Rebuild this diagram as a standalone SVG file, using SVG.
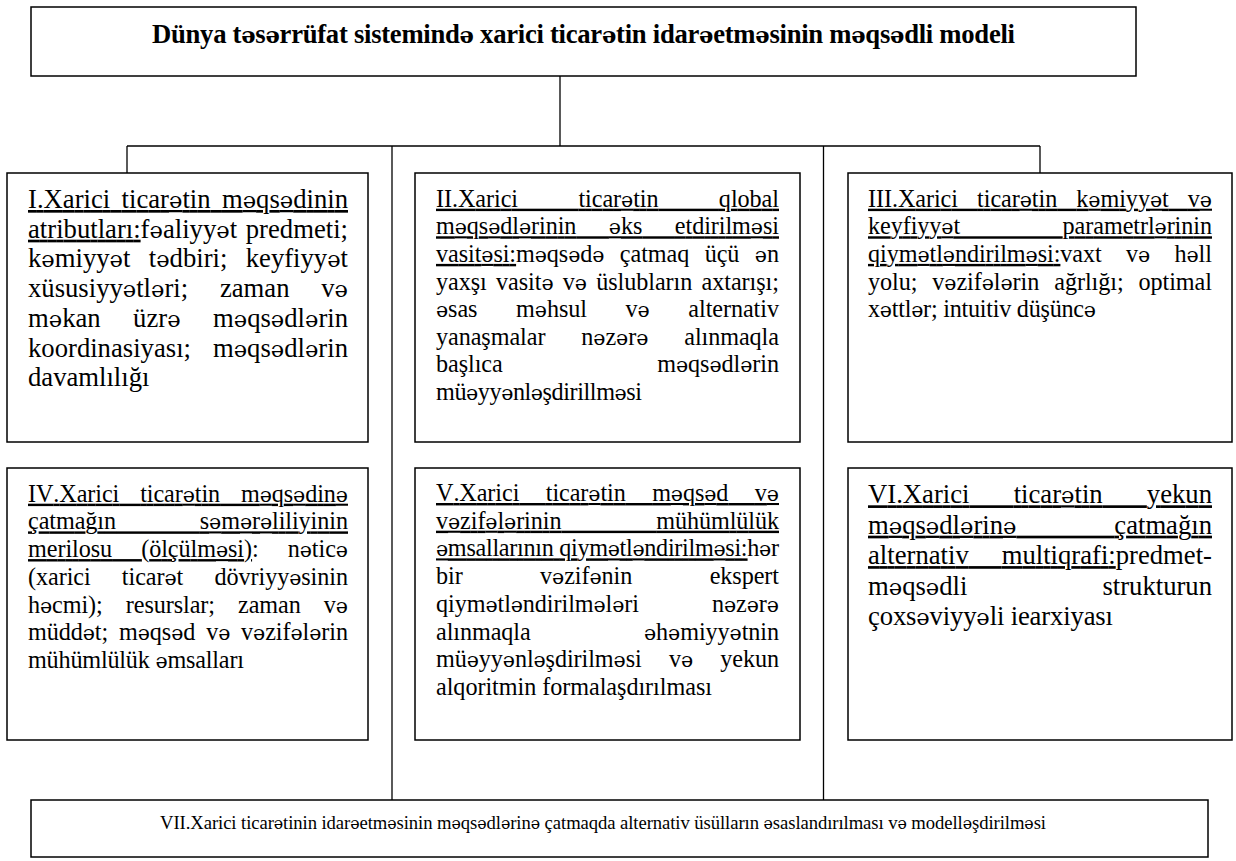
<svg xmlns="http://www.w3.org/2000/svg" width="1236" height="861" viewBox="0 0 1236 861">
<style>
.box{fill:#fff;stroke:#000;stroke-width:1.5}
.conn{stroke:#000;stroke-width:1.3;fill:none}
.t{font-family:"Liberation Serif","Times New Roman","DejaVu Serif",serif;font-size:24.2px;fill:#000;font-kerning:none;font-variant-ligatures:none}
.big{font-size:26.67px}
.small{font-size:18.67px}
.title{font-weight:bold;font-size:26.67px}
.u{text-decoration:underline;text-decoration-thickness:1.6px}
.s{font-size:85%;font-family:"DejaVu Serif","Liberation Serif",serif}
</style>
<rect width="1236" height="861" fill="#fff"/>
<g id="connectors">
<line class="conn" x1="560" y1="76" x2="560" y2="146"/>
<line class="conn" x1="127" y1="146" x2="1040" y2="146"/>
<line class="conn" x1="127" y1="146" x2="127" y2="173"/>
<line class="conn" x1="1040" y1="146" x2="1040" y2="173"/>
<line class="conn" x1="392" y1="146" x2="392" y2="800"/>
<line class="conn" x1="823.5" y1="146" x2="823.5" y2="800"/>
</g>
<g id="title">
<rect class="box" x="31" y="7" width="1105" height="69"/>
<text class="t title" x="152" y="43" textLength="863" lengthAdjust="spacing">Dünya t<tspan class="s">ə</tspan>s<tspan class="s">ə</tspan>rrüfat sistemind<tspan class="s">ə</tspan> xarici ticar<tspan class="s">ə</tspan>tin idar<tspan class="s">ə</tspan>etm<tspan class="s">ə</tspan>sinin m<tspan class="s">ə</tspan>qs<tspan class="s">ə</tspan>dli modeli</text>
</g>
<g id="node-1">
<rect class="box" x="7" y="173" width="361" height="269"/>
<text class="t big u" x="28" y="208" word-spacing="4.7" textLength="320" lengthAdjust="spacing">I.Xarici ticar<tspan class="s">ə</tspan>tin m<tspan class="s">ə</tspan>qs<tspan class="s">ə</tspan>dinin</text>
<text class="t big" x="28" y="237.7" word-spacing="2" textLength="320" lengthAdjust="spacing"><tspan class="u">atributları:</tspan>f<tspan class="s">ə</tspan>aliyy<tspan class="s">ə</tspan>t predmeti;</text>
<text class="t big" x="28" y="267.4" word-spacing="11.7" textLength="320" lengthAdjust="spacing">k<tspan class="s">ə</tspan>miyy<tspan class="s">ə</tspan>t t<tspan class="s">ə</tspan>dbiri; keyfiyy<tspan class="s">ə</tspan>t</text>
<text class="t big" x="28" y="297.1" word-spacing="25.1" textLength="320" lengthAdjust="spacing">xüsusiyy<tspan class="s">ə</tspan>tl<tspan class="s">ə</tspan>ri; zaman v<tspan class="s">ə</tspan></text>
<text class="t big" x="28" y="326.8" word-spacing="25.8" textLength="320" lengthAdjust="spacing">m<tspan class="s">ə</tspan>kan üzr<tspan class="s">ə</tspan> m<tspan class="s">ə</tspan>qs<tspan class="s">ə</tspan>dl<tspan class="s">ə</tspan>rin</text>
<text class="t big" x="28" y="356.5" word-spacing="15.3" textLength="320" lengthAdjust="spacing">koordinasiyası; m<tspan class="s">ə</tspan>qs<tspan class="s">ə</tspan>dl<tspan class="s">ə</tspan>rin</text>
<text class="t big" x="28" y="386.2">davamlılığı</text>
</g>
<g id="node-2">
<rect class="box" x="415" y="173" width="385" height="269"/>
<text class="t u" x="436" y="206.7" word-spacing="54.4" textLength="343" lengthAdjust="spacing">II.Xarici ticar<tspan class="s">ə</tspan>tin qlobal</text>
<text class="t u" x="436" y="234.3" word-spacing="26.6" textLength="343" lengthAdjust="spacing">m<tspan class="s">ə</tspan>qs<tspan class="s">ə</tspan>dl<tspan class="s">ə</tspan>rinin <tspan class="s">ə</tspan>ks etdirilm<tspan class="s">ə</tspan>si</text>
<text class="t" x="436" y="261.9" word-spacing="9.5" textLength="343" lengthAdjust="spacing"><tspan class="u">vasit<tspan class="s">ə</tspan>si:</tspan>m<tspan class="s">ə</tspan>qs<tspan class="s">ə</tspan>d<tspan class="s">ə</tspan> çatmaq üçü <tspan class="s">ə</tspan>n</text>
<text class="t" x="436" y="289.5" word-spacing="3.3" textLength="343" lengthAdjust="spacing">yaxşı vasit<tspan class="s">ə</tspan> v<tspan class="s">ə</tspan> üslubların axtarışı;</text>
<text class="t" x="436" y="317.1" word-spacing="32.7" textLength="343" lengthAdjust="spacing"><tspan class="s">ə</tspan>sas m<tspan class="s">ə</tspan>hsul v<tspan class="s">ə</tspan> alternativ</text>
<text class="t" x="436" y="344.7" word-spacing="30" textLength="343" lengthAdjust="spacing">yanaşmalar n<tspan class="s">ə</tspan>z<tspan class="s">ə</tspan>r<tspan class="s">ə</tspan> alınmaqla</text>
<text class="t" x="436" y="372.3" word-spacing="148.7" textLength="343" lengthAdjust="spacing">başlıca m<tspan class="s">ə</tspan>qs<tspan class="s">ə</tspan>dl<tspan class="s">ə</tspan>rin</text>
<text class="t" x="436" y="399.9" textLength="206" lengthAdjust="spacing">mü<tspan class="s">ə</tspan>yy<tspan class="s">ə</tspan>nl<tspan class="s">ə</tspan>şdirillm<tspan class="s">ə</tspan>si</text>
</g>
<g id="node-3">
<rect class="box" x="848" y="173" width="384" height="269"/>
<text class="t u" x="868" y="206.7" word-spacing="13.2" textLength="344" lengthAdjust="spacing">III.Xarici ticar<tspan class="s">ə</tspan>tin k<tspan class="s">ə</tspan>miyy<tspan class="s">ə</tspan>t v<tspan class="s">ə</tspan></text>
<text class="t u" x="868" y="234.3" word-spacing="96.6" textLength="344" lengthAdjust="spacing">keyfiyy<tspan class="s">ə</tspan>t parametrl<tspan class="s">ə</tspan>rinin</text>
<text class="t" x="868" y="261.9" word-spacing="18.4" textLength="344" lengthAdjust="spacing"><tspan class="u">qiym<tspan class="s">ə</tspan>tl<tspan class="s">ə</tspan>ndirilm<tspan class="s">ə</tspan>si:</tspan>vaxt v<tspan class="s">ə</tspan> h<tspan class="s">ə</tspan>ll</text>
<text class="t" x="868" y="289.5" word-spacing="9" textLength="344" lengthAdjust="spacing">yolu; v<tspan class="s">ə</tspan>zif<tspan class="s">ə</tspan>l<tspan class="s">ə</tspan>rin ağrlığı; optimal</text>
<text class="t" x="868" y="317.1" textLength="228" lengthAdjust="spacing">x<tspan class="s">ə</tspan>ttl<tspan class="s">ə</tspan>r; intuitiv düşünc<tspan class="s">ə</tspan></text>
</g>
<g id="node-4">
<rect class="box" x="7" y="468" width="361" height="272"/>
<text class="t u" x="28" y="501.7" word-spacing="14.9" textLength="320" lengthAdjust="spacing">IV.Xarici ticar<tspan class="s">ə</tspan>tin m<tspan class="s">ə</tspan>qs<tspan class="s">ə</tspan>din<tspan class="s">ə</tspan></text>
<text class="t u" x="28" y="529.4" word-spacing="77.8" textLength="320" lengthAdjust="spacing">çatmağın s<tspan class="s">ə</tspan>m<tspan class="s">ə</tspan>r<tspan class="s">ə</tspan>liliyinin</text>
<text class="t" x="28" y="557.1" word-spacing="23.1" textLength="320" lengthAdjust="spacing"><tspan class="u">merilosu (ölçülm<tspan class="s">ə</tspan>si)</tspan>: n<tspan class="s">ə</tspan>tic<tspan class="s">ə</tspan></text>
<text class="t" x="28" y="584.8" word-spacing="25.3" textLength="320" lengthAdjust="spacing">(xarici ticar<tspan class="s">ə</tspan>t dövriyy<tspan class="s">ə</tspan>sinin</text>
<text class="t" x="28" y="612.5" word-spacing="17.1" textLength="320" lengthAdjust="spacing">h<tspan class="s">ə</tspan>cmi); resurslar; zaman v<tspan class="s">ə</tspan></text>
<text class="t" x="28" y="640.2" word-spacing="4.9" textLength="320" lengthAdjust="spacing">müdd<tspan class="s">ə</tspan>t; m<tspan class="s">ə</tspan>qs<tspan class="s">ə</tspan>d v<tspan class="s">ə</tspan> v<tspan class="s">ə</tspan>zif<tspan class="s">ə</tspan>l<tspan class="s">ə</tspan>rin</text>
<text class="t" x="28" y="667.9" textLength="216" lengthAdjust="spacing">mühümlülük <tspan class="s">ə</tspan>msalları</text>
</g>
<g id="node-5">
<rect class="box" x="415" y="468" width="385" height="272"/>
<text class="t u" x="436" y="501" word-spacing="20.5" textLength="343" lengthAdjust="spacing">V.Xarici ticar<tspan class="s">ə</tspan>tin m<tspan class="s">ə</tspan>qs<tspan class="s">ə</tspan>d v<tspan class="s">ə</tspan></text>
<text class="t u" x="436" y="528.7" word-spacing="88.8" textLength="343" lengthAdjust="spacing">v<tspan class="s">ə</tspan>zif<tspan class="s">ə</tspan>l<tspan class="s">ə</tspan>rinin mühümlülük</text>
<text class="t" x="436" y="556.4" textLength="343" lengthAdjust="spacing"><tspan class="u"><tspan class="s">ə</tspan>msallarının qiym<tspan class="s">ə</tspan>tl<tspan class="s">ə</tspan>ndirilm<tspan class="s">ə</tspan>si:</tspan>h<tspan class="s">ə</tspan>r</text>
<text class="t" x="436" y="584.1" word-spacing="71.5" textLength="343" lengthAdjust="spacing">bir v<tspan class="s">ə</tspan>zif<tspan class="s">ə</tspan>nin ekspert</text>
<text class="t" x="436" y="611.8" word-spacing="67.1" textLength="343" lengthAdjust="spacing">qiym<tspan class="s">ə</tspan>tl<tspan class="s">ə</tspan>ndirilm<tspan class="s">ə</tspan>l<tspan class="s">ə</tspan>ri n<tspan class="s">ə</tspan>z<tspan class="s">ə</tspan>r<tspan class="s">ə</tspan></text>
<text class="t" x="436" y="639.5" word-spacing="107.5" textLength="343" lengthAdjust="spacing">alınmaqla <tspan class="s">ə</tspan>h<tspan class="s">ə</tspan>miyy<tspan class="s">ə</tspan>tnin</text>
<text class="t" x="436" y="667.2" word-spacing="21.3" textLength="343" lengthAdjust="spacing">mü<tspan class="s">ə</tspan>yy<tspan class="s">ə</tspan>nl<tspan class="s">ə</tspan>şdirilm<tspan class="s">ə</tspan>si v<tspan class="s">ə</tspan> yekun</text>
<text class="t" x="436" y="694.9" textLength="276" lengthAdjust="spacing">alqoritmin formalaşdırılması</text>
</g>
<g id="node-6">
<rect class="box" x="848" y="468" width="384" height="272"/>
<text class="t big u" x="868" y="503.3" word-spacing="37.5" textLength="344" lengthAdjust="spacing">VI.Xarici ticar<tspan class="s">ə</tspan>tin yekun</text>
<text class="t big u" x="868" y="533.7" word-spacing="91.2" textLength="344" lengthAdjust="spacing">m<tspan class="s">ə</tspan>qs<tspan class="s">ə</tspan>dl<tspan class="s">ə</tspan>rin<tspan class="s">ə</tspan> çatmağın</text>
<text class="t big" x="868" y="564.1" word-spacing="26.3" textLength="344" lengthAdjust="spacing"><tspan class="u">alternativ multiqrafi:</tspan>predmet-</text>
<text class="t big" x="868" y="594.5" word-spacing="128.3" textLength="344" lengthAdjust="spacing">m<tspan class="s">ə</tspan>qs<tspan class="s">ə</tspan>dli strukturun</text>
<text class="t big" x="868" y="624.9" textLength="245" lengthAdjust="spacing">çoxs<tspan class="s">ə</tspan>viyy<tspan class="s">ə</tspan>li iearxiyası</text>
</g>
<g id="node-7">
<rect class="box" x="31" y="800" width="1177" height="57"/>
<text class="t small" x="160" y="829" textLength="886" lengthAdjust="spacing">VII.Xarici ticar<tspan class="s">ə</tspan>tinin idar<tspan class="s">ə</tspan>etm<tspan class="s">ə</tspan>sinin m<tspan class="s">ə</tspan>qs<tspan class="s">ə</tspan>dl<tspan class="s">ə</tspan>rin<tspan class="s">ə</tspan> çatmaqda alternativ üsülların <tspan class="s">ə</tspan>saslandırılması v<tspan class="s">ə</tspan> modell<tspan class="s">ə</tspan>şdirilm<tspan class="s">ə</tspan>si</text>
</g>
</svg>
